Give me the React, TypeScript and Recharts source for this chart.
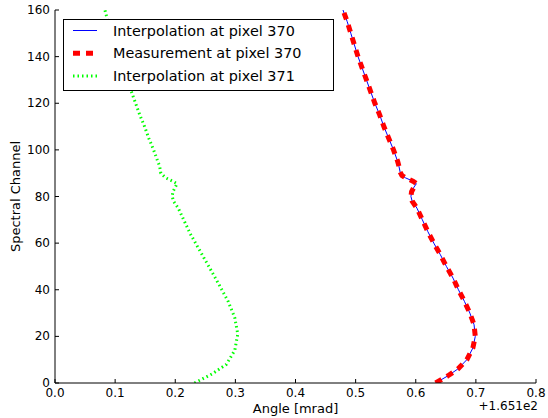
import React from "react";
import { LineChart, Line, XAxis, YAxis, Legend, Label } from "recharts";

// Angle offsets are relative to 165.1 mrad (shown as "+1.651e2" on the axis)
const channels370 = [
  0, 3, 6, 10, 15, 20, 25, 30, 35, 40, 45, 50, 55, 60, 65, 70, 75, 78, 80, 82, 84, 85.5, 86.5, 88, 89, 90.5, 93,
  95, 100, 105, 110, 115, 120, 125, 130, 135, 140, 145, 150, 155, 160,
];
const angle370 = [
  0.633, 0.653, 0.67, 0.685, 0.695, 0.699, 0.697, 0.69, 0.681, 0.671, 0.662, 0.651, 0.641, 0.63, 0.62, 0.611, 0.602,
  0.594, 0.592, 0.593, 0.597, 0.601, 0.596, 0.583, 0.577, 0.574, 0.572, 0.57, 0.563, 0.555, 0.547, 0.54, 0.532,
  0.525, 0.518, 0.511, 0.504, 0.498, 0.492, 0.486, 0.479,
];

const channels371 = [
  0, 4, 8, 14, 21, 28, 35, 44, 54, 64, 75, 78, 80, 82, 84, 85.5, 86.5, 88, 90, 93, 95, 100, 105, 110, 115, 120, 125,
  130, 135, 140, 145, 150, 155, 160,
];
const angle371 = [
  0.232, 0.262, 0.285, 0.299, 0.304, 0.299, 0.288, 0.269, 0.247, 0.225, 0.205, 0.197, 0.195, 0.196, 0.2, 0.203, 0.196,
  0.184, 0.176, 0.174, 0.171, 0.164, 0.156, 0.149, 0.141, 0.134, 0.127, 0.12, 0.113, 0.106, 0.1, 0.094, 0.088, 0.083,
];

const xTicks = [0, 0.1, 0.2, 0.3, 0.4, 0.5, 0.6, 0.7, 0.8];
const yTicks = [0, 20, 40, 60, 80, 100, 120, 140, 160];
const legendOrder = ["Interpolation at pixel 370", "Measurement at pixel 370", "Interpolation at pixel 371"];

const FONT = "DejaVu Sans";

const pixel370 = channels370.map((ch, i) => ({ channel: ch, angle: angle370[i] }));
const pixel371 = channels371.map((ch, i) => ({ channel: ch, angle: angle371[i] }));

// matplotlib-style ticks: short marks pointing into the plot
const BottomTick = ({ x, y, payload }: any) => (
  <g>
    <line x1={x} x2={x} y1={y} y2={y - 4} stroke="#000" />
    <text x={x} y={y + 14} textAnchor="middle" fontSize={12} fontFamily={FONT} fill="#000">
      {Number(payload.value).toFixed(1)}
    </text>
  </g>
);
const TopTick = ({ x, y }: any) => <line x1={x} x2={x} y1={y} y2={y + 4} stroke="#000" />;
const LeftTick = ({ x, y, payload }: any) => (
  <g>
    <line x1={x} x2={x + 4} y1={y} y2={y} stroke="#000" />
    <text x={x - 5} y={y + 4} textAnchor="end" fontSize={12} fontFamily={FONT} fill="#000">
      {payload.value}
    </text>
  </g>
);
const RightTick = ({ x, y }: any) => <line x1={x} x2={x - 4} y1={y} y2={y} stroke="#000" />;

const renderLegend = ({ payload }: any) => (
  <svg width={271} height={72}>
    <rect x={0.5} y={0.5} width={270} height={71} fill="#fff" stroke="#000" />
    {(payload || []).map((item: any, i: number) => {
      const cy = 11.5 + i * 22.7;
      const p = item.payload || {};
      return (
        <g key={item.value}>
          <line
            x1={10}
            x2={34}
            y1={cy}
            y2={cy}
            stroke={item.color}
            strokeWidth={p.strokeWidth}
            strokeDasharray={p.strokeDasharray}
          />
          <text x={50} y={cy + 5} fontSize={14.4} fontFamily={FONT} fill="#000">
            {item.value}
          </text>
        </g>
      );
    })}
  </svg>
);

export default function App() {
  return (
    <div style={{ position: "absolute", left: 0, top: 0, background: "#fff" }}>
      <LineChart width={548} height={418} layout="vertical" margin={{ top: 10, right: 12, bottom: 0, left: 0 }}>
        <XAxis
          type="number"
          dataKey="angle"
          domain={[0, 0.8]}
          ticks={xTicks}
          allowDataOverflow
          height={35}
          tickSize={0}
          tickMargin={0}
          tickLine={false}
          axisLine={{ stroke: "#000" }}
          tick={<BottomTick />}
        >
          <Label
            content={({ viewBox }: any) => (
              <g>
                <text
                  x={viewBox.x + viewBox.width / 2}
                  y={viewBox.y + 30}
                  textAnchor="middle"
                  fontSize={13}
                  fontFamily={FONT}
                  fill="#000"
                >
                  Angle [mrad]
                </text>
                <text
                  x={viewBox.x + viewBox.width + 2}
                  y={viewBox.y + 27}
                  textAnchor="end"
                  fontSize={12}
                  fontFamily={FONT}
                  fill="#000"
                >
                  +1.651e2
                </text>
              </g>
            )}
          />
        </XAxis>
        <XAxis
          xAxisId="top"
          orientation="top"
          type="number"
          domain={[0, 0.8]}
          ticks={xTicks}
          allowDataOverflow
          height={0}
          tickSize={0}
          tickMargin={0}
          tickLine={false}
          axisLine={{ stroke: "#000" }}
          tick={<TopTick />}
        />
        <YAxis
          type="number"
          dataKey="channel"
          domain={[0, 160]}
          ticks={yTicks}
          reversed
          allowDataOverflow
          width={55}
          tickSize={0}
          tickMargin={0}
          tickLine={false}
          axisLine={{ stroke: "#000" }}
          tick={<LeftTick />}
        >
          <Label
            content={({ viewBox }: any) => {
              const cy = viewBox.y + viewBox.height / 2;
              return (
                <text
                  x={20}
                  y={cy}
                  transform={`rotate(-90, 20, ${cy})`}
                  textAnchor="middle"
                  fontSize={13}
                  fontFamily={FONT}
                  fill="#000"
                >
                  Spectral Channel
                </text>
              );
            }}
          />
        </YAxis>
        <YAxis
          yAxisId="right"
          orientation="right"
          type="number"
          domain={[0, 160]}
          ticks={yTicks}
          reversed
          allowDataOverflow
          width={0}
          tickSize={0}
          tickMargin={0}
          tickLine={false}
          axisLine={{ stroke: "#000" }}
          tick={<RightTick />}
        />
        <Legend
          layout="vertical"
          align="center"
          verticalAlign="middle"
          content={renderLegend}
          itemSorter={(item: any) => legendOrder.indexOf(item.value)}
          wrapperStyle={{ left: 63, top: 19, width: 271, height: 72 }}
        />
        <Line
          data={pixel370}
          dataKey="angle"
          name="Interpolation at pixel 370"
          type="linear"
          stroke="#0000ff"
          strokeWidth={1}
          dot={false}
          activeDot={false}
          isAnimationActive={false}
        />
        <Line
          data={pixel370}
          dataKey="angle"
          name="Measurement at pixel 370"
          type="linear"
          stroke="#ff0000"
          strokeWidth={5}
          strokeDasharray="7 6"
          dot={false}
          activeDot={false}
          isAnimationActive={false}
        />
        <Line
          data={pixel371}
          dataKey="angle"
          name="Interpolation at pixel 371"
          type="linear"
          stroke="#00ff00"
          strokeWidth={3}
          strokeDasharray="1.5 3"
          dot={false}
          activeDot={false}
          isAnimationActive={false}
        />
      </LineChart>
    </div>
  );
}
